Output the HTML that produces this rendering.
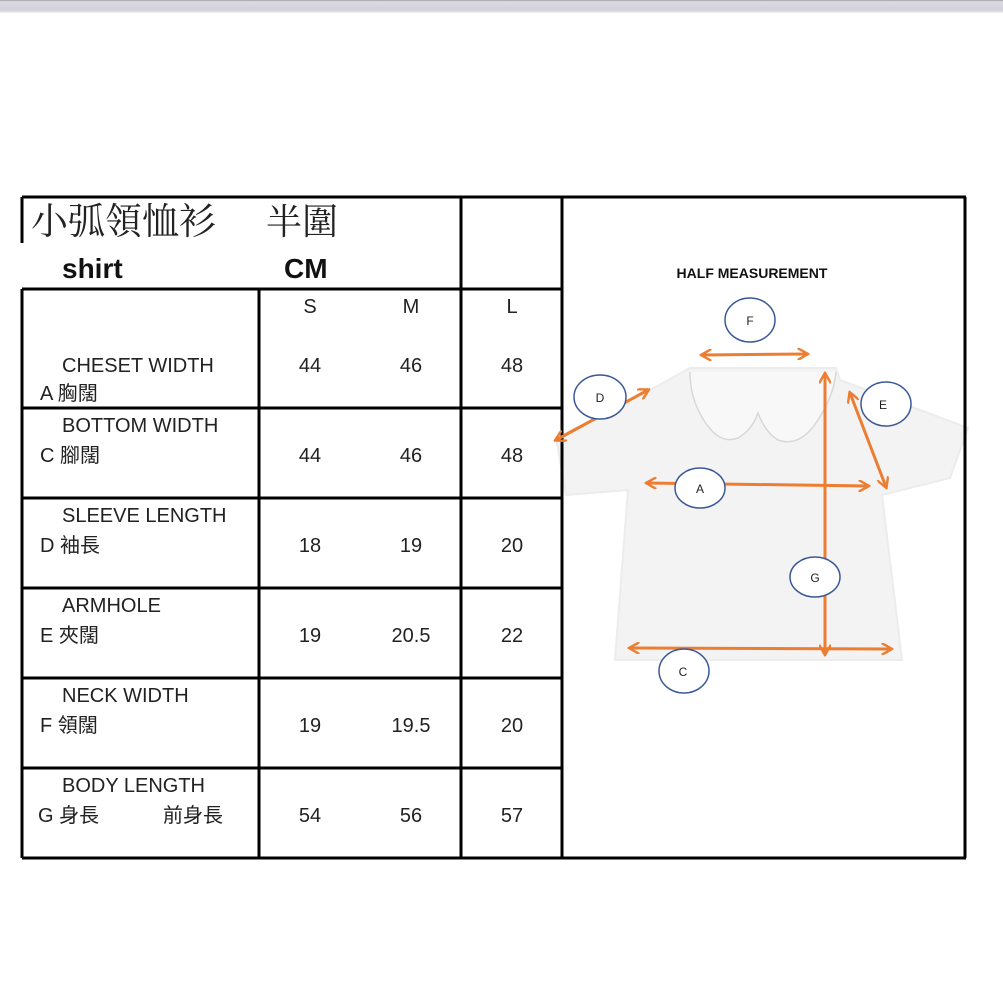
<!DOCTYPE html>
<html><head><meta charset="utf-8"><style>
html,body{margin:0;padding:0;background:#fff;}
svg{display:block;}
.t{font-family:"Liberation Sans","Noto Sans CJK TC",sans-serif;font-size:20px;fill:#222;}
.n{font-family:"Liberation Sans",sans-serif;font-size:20px;fill:#222;text-anchor:middle;}
.c{font-family:"Liberation Sans",sans-serif;font-size:12px;fill:#222;text-anchor:middle;}
</style></head><body>
<svg width="1003" height="1003" viewBox="0 0 1003 1003" xmlns="http://www.w3.org/2000/svg">
<defs>
<linearGradient id="bar" x1="0" y1="0" x2="0" y2="1"><stop offset="0" stop-color="#9a98a0"/><stop offset="0.12" stop-color="#dcdae0"/><stop offset="0.8" stop-color="#d2d0d8"/><stop offset="1" stop-color="#f4f4f8"/></linearGradient>
<marker id="ah" viewBox="0 0 10 10" refX="8" refY="5" markerWidth="4" markerHeight="4" orient="auto-start-reverse"><path d="M0,0 L9,5 L0,10" fill="none" stroke="#ed7d31" stroke-width="2"/></marker>
</defs>
<rect x="0" y="0" width="1003" height="13" fill="url(#bar)"/>
<!-- shirt -->
<path d="M690,368 L650,390 L556,438 L566,495 L628,490 L615,660 L902,660 L882,495 L950,478 L968,428 L840,380 L836,368 Z" fill="#f3f3f3" stroke="#ececec" stroke-width="2"/>
<path d="M690,372 Q690,400 705,422 Q720,445 738,438 Q752,430 758,413 Q765,432 778,440 Q800,448 818,420 Q834,395 836,372" fill="#f8f8f8" stroke="#d8d8d8" stroke-width="1.5"/>
<!-- table lines -->
<g stroke="#000" stroke-width="3" fill="none">
<line x1="22" y1="197" x2="966" y2="197"/>
<line x1="22" y1="858" x2="966" y2="858"/>
<line x1="22" y1="197" x2="22" y2="243"/>
<line x1="22" y1="289" x2="22" y2="858"/>
<line x1="965" y1="197" x2="965" y2="858"/>
<line x1="461" y1="197" x2="461" y2="858"/>
<line x1="562" y1="197" x2="562" y2="858"/>
<line x1="259" y1="289" x2="259" y2="858"/>
<line x1="22" y1="289" x2="562" y2="289"/>
<line x1="22" y1="408" x2="562" y2="408"/>
<line x1="22" y1="498" x2="562" y2="498"/>
<line x1="22" y1="588" x2="562" y2="588"/>
<line x1="22" y1="678" x2="562" y2="678"/>
<line x1="22" y1="768" x2="562" y2="768"/>
</g>
<text x="31" y="234" font-family="'Noto Serif CJK SC','Noto Sans CJK TC',serif" font-size="37" fill="#222">小弧領恤衫</text>
<text x="266" y="234" font-family="'Noto Serif CJK SC','Noto Sans CJK TC',serif" font-size="36" fill="#222">半圍</text>
<text x="62" y="278" font-family="'Liberation Sans',sans-serif" font-size="28" font-weight="bold" fill="#111">shirt</text>
<text x="284" y="278" font-family="'Liberation Sans',sans-serif" font-size="28" font-weight="bold" fill="#111">CM</text>
<text class="n" x="310" y="313">S</text><text class="n" x="411" y="313">M</text><text class="n" x="512" y="313">L</text>

<text class="t" x="62" y="372">CHESET WIDTH</text><text class="t" x="40" y="400">A 胸闊</text>
<text class="n" x="310" y="372">44</text><text class="n" x="411" y="372">46</text><text class="n" x="512" y="372">48</text>

<text class="t" x="62" y="432">BOTTOM WIDTH</text><text class="t" x="40" y="462">C 腳闊</text>
<text class="n" x="310" y="462">44</text><text class="n" x="411" y="462">46</text><text class="n" x="512" y="462">48</text>

<text class="t" x="62" y="522">SLEEVE LENGTH</text><text class="t" x="40" y="552">D 袖長</text>
<text class="n" x="310" y="552">18</text><text class="n" x="411" y="552">19</text><text class="n" x="512" y="552">20</text>

<text class="t" x="62" y="612">ARMHOLE</text><text class="t" x="40" y="642">E 夾闊</text>
<text class="n" x="310" y="642">19</text><text class="n" x="411" y="642">20.5</text><text class="n" x="512" y="642">22</text>

<text class="t" x="62" y="702">NECK WIDTH</text><text class="t" x="40" y="732">F 領闊</text>
<text class="n" x="310" y="732">19</text><text class="n" x="411" y="732">19.5</text><text class="n" x="512" y="732">20</text>

<text class="t" x="62" y="792">BODY LENGTH</text><text class="t" x="38" y="822">G 身長</text><text class="t" x="163" y="822">前身長</text>
<text class="n" x="310" y="822">54</text><text class="n" x="411" y="822">56</text><text class="n" x="512" y="822">57</text>

<text x="752" y="278" font-family="'Liberation Sans',sans-serif" font-size="14" font-weight="bold" fill="#111" text-anchor="middle">HALF MEASUREMENT</text>

<!-- arrows -->
<g stroke="#ed7d31" stroke-width="3" fill="none" marker-start="url(#ah)" marker-end="url(#ah)">
<line x1="702" y1="355" x2="807" y2="354"/>
<line x1="556" y1="440" x2="648" y2="390"/>
<line x1="850" y1="393" x2="886" y2="487"/>
<line x1="647" y1="483" x2="868" y2="486"/>
<line x1="825" y1="374" x2="825" y2="654"/>
<line x1="630" y1="648" x2="891" y2="649"/>
</g>
<g fill="#fff" stroke="#3b5998" stroke-width="1.5">
<ellipse cx="750" cy="320" rx="25" ry="22"/>
<ellipse cx="600" cy="397" rx="26" ry="22"/>
<ellipse cx="886" cy="404" rx="25" ry="22"/>
<ellipse cx="700" cy="488" rx="25" ry="20"/>
<ellipse cx="815" cy="577" rx="25" ry="20"/>
<ellipse cx="684" cy="671" rx="25" ry="22"/>
</g>
<text class="c" x="750" y="325">F</text>
<text class="c" x="600" y="402">D</text>
<text class="c" x="883" y="409">E</text>
<text class="c" x="700" y="493">A</text>
<text class="c" x="815" y="582">G</text>
<text class="c" x="683" y="676">C</text>
</svg>
</body></html>
